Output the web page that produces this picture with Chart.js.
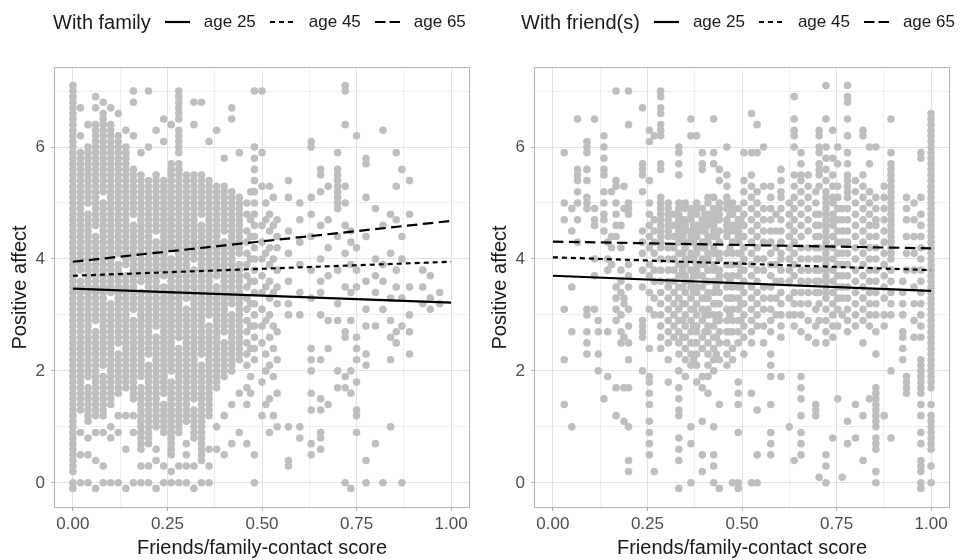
<!DOCTYPE html>
<html>
<head>
<meta charset="utf-8">
<script src="https://cdn.jsdelivr.net/npm/chart.js@4.4.0/dist/chart.umd.min.js"></script>
<style>
body{margin:0;background:#fff;width:963px;height:560px;position:relative;overflow:hidden;font-family:"Liberation Sans",Arial,sans-serif;}
canvas{position:absolute;top:0}
#c1{left:0}
#c2{left:480px}
.lg{position:absolute;top:10px;height:24px;display:flex;align-items:center;gap:14px;white-space:nowrap;color:#1a1a1a;z-index:2}
.lg .t{font-size:20px}
.lg .a{font-size:17px}
.lg svg{display:block}
</style>
</head>
<body>
<div class="lg" style="left:53px">
  <span class="t">With family</span>
  <svg width="25" height="6"><line x1="0" y1="3" x2="25" y2="3" stroke="#000" stroke-width="2.2"/></svg><span class="a">age 25</span>
  <svg width="25" height="6"><line x1="0" y1="3" x2="25" y2="3" stroke="#000" stroke-width="2.2" stroke-dasharray="5 4"/></svg><span class="a">age 45</span>
  <svg width="25" height="6"><line x1="0" y1="3" x2="25" y2="3" stroke="#000" stroke-width="2.2" stroke-dasharray="10.5 4"/></svg><span class="a">age 65</span>
</div>
<div class="lg" style="left:521px">
  <span class="t">With friend(s)</span>
  <svg width="25" height="6"><line x1="0" y1="3" x2="25" y2="3" stroke="#000" stroke-width="2.2"/></svg><span class="a">age 25</span>
  <svg width="25" height="6"><line x1="0" y1="3" x2="25" y2="3" stroke="#000" stroke-width="2.2" stroke-dasharray="5 4"/></svg><span class="a">age 45</span>
  <svg width="25" height="6"><line x1="0" y1="3" x2="25" y2="3" stroke="#000" stroke-width="2.2" stroke-dasharray="10.5 4"/></svg><span class="a">age 65</span>
</div>
<canvas id="c1" width="481" height="560"></canvas>
<canvas id="c2" width="481" height="560"></canvas>
<script>
// tick positions
var xMajor = [0, 0.25, 0.5, 0.75, 1];
var xMinor = [0.125, 0.375, 0.625, 0.875];
var yMajor = [0, 2, 4, 6];
var yMinor = [1, 3, 5, 7];

// fitted lines, value at score 0 and score 1
var lineX = [0, 1];
var famAge25 = [3.47, 3.22];
var famAge45 = [3.70, 3.95];
var famAge65 = [3.95, 4.68];
var friAge25 = [3.70, 3.43];
var friAge45 = [4.03, 3.80];
var friAge65 = [4.31, 4.19];

var famX = [0, 0.02, 0.04, 0.06, 0.08, 0.10, 0.12, 0.14, 0.16, 0.18, 0.20, 0.22, 0.24, 0.26, 0.28, 0.30, 0.32, 0.34, 0.36, 0.38, 0.40, 0.42, 0.44, 0.46, 0.47, 0.48, 0.50, 0.51, 0.52, 0.53, 0.54,
  0.57, 0.60, 0.63, 0.655, 0.675, 0.70, 0.72, 0.735, 0.75, 0.775, 0.80, 0.82, 0.84, 0.855, 0.87, 0.89, 0.925, 0.945, 0.97];
var famY = [
  [-1,0,2,3,4,5,6,7,8,9,10,11,12,13,14,15,16,17,18,19,20,21,22,23,24,25,26,27,28,29,30,31,32,33,34,35,36,37,38,39,40,41,42,43,44,45,46,47,48,49,50,51,52,53,54,55,56,57,58,59,60,61,62,63,64,65,66,67,68,69,70,71],
  [0,5,9,13,14,15,16,17,18,19,20,21,22,23,24,25,26,27,28,29,30,31,32,33,34,35,36,38,39,40,41,42,43,44,45,46,47,48,49,50,51,52,53,54,55,56,57,58,59,62,67],
  [0,5,8,11,12,13,14,15,16,17,19,20,21,22,23,24,25,26,27,28,29,30,31,32,33,34,35,36,37,38,39,40,41,42,43,44,45,46,47,48,50,51,52,53,54,55,56,57,58,59,60,64],
  [-1,4,9,12,13,14,15,16,17,18,19,20,21,22,23,24,25,26,27,29,30,31,32,33,34,35,36,37,38,39,40,41,42,43,44,46,47,48,49,50,51,52,53,54,55,56,57,58,59,60,61,62,63,64,67,69],
  [0,3,9,12,13,14,15,16,17,18,19,21,22,23,24,25,26,27,28,29,30,31,32,33,34,35,36,37,38,39,40,41,42,43,44,45,46,47,48,49,50,52,53,54,55,56,57,58,59,60,61,62,63,64,65,66,68],
  [0,8,10,14,15,16,17,18,19,20,21,22,23,24,25,26,27,28,29,30,31,32,34,35,36,37,38,39,40,41,42,43,44,45,46,47,48,49,50,51,52,53,54,55,56,57,58,59,60,61,62,63,64,67],
  [0,9,12,16,17,18,19,20,21,22,23,25,26,27,28,29,30,31,32,33,34,35,36,37,38,39,41,42,43,44,45,46,47,48,49,50,51,52,53,54,55,56,57,58,59,60,61,62,66],
  [-1,6,12,17,18,19,20,21,22,23,24,25,26,27,28,29,30,31,32,33,34,35,36,37,39,40,41,42,43,44,45,46,47,48,49,50,51,52,53,54,55,56,57,58,59,60,63],
  [0,9,12,15,16,17,18,19,20,21,22,23,24,25,26,27,28,29,31,32,33,34,35,36,37,38,39,40,41,42,43,44,45,46,48,49,50,51,52,53,54,55,56,62,68,70],
  [0,3,6,7,8,9,10,11,12,13,14,15,16,17,19,20,21,22,23,24,25,26,27,28,29,30,31,32,33,34,36,37,38,39,40,41,42,43,44,45,46,47,48,49,50,51,52,53,54,55,59],
  [0,3,7,8,9,10,11,12,13,14,15,16,17,18,19,20,21,23,24,25,26,27,28,29,30,31,32,33,34,35,36,37,38,39,40,41,42,43,44,45,46,47,48,49,50,51,52,53,54,60,70],
  [-1,4,6,10,11,12,13,14,15,16,17,18,19,20,21,22,23,24,25,26,28,29,30,31,32,33,34,35,36,37,38,39,40,41,42,43,45,46,47,48,49,50,51,52,53,54,55,63],
  [0,3,9,10,11,12,13,14,16,17,18,19,20,21,22,23,24,25,26,27,28,29,30,31,32,33,34,35,37,38,39,40,41,42,43,44,45,46,47,48,49,50,51,52,53,54,61,65],
  [0,2,5,6,7,8,9,10,11,12,13,14,15,16,17,18,20,21,22,23,24,25,26,27,28,29,30,31,32,33,34,35,36,37,38,39,40,42,43,44,45,46,47,48,49,50,51,52,53,54,55,56,57,64],
  [0,3,9,10,11,12,13,14,15,16,17,18,19,20,21,22,23,24,26,27,28,29,30,31,32,33,34,35,36,37,38,39,40,41,42,43,44,45,46,47,48,49,50,51,52,53,54,55,56,57,59,60,61,62,63,65,66,67,68,69,70],
  [0,3,5,7,11,12,13,14,15,16,17,18,19,20,21,22,23,24,25,26,27,28,29,30,31,33,34,35,36,37,38,39,40,41,42,43,44,45,46,47,48,49,50,51,52,53,54,55],
  [-1,3,8,9,10,11,12,13,15,16,17,18,19,20,21,22,23,24,25,26,27,28,29,30,31,32,33,34,35,36,37,38,40,41,42,43,44,45,46,47,48,49,50,51,52,53,54,55,64,68],
  [0,4,5,6,7,8,9,10,11,12,13,14,15,16,17,18,19,20,21,23,24,25,26,27,28,29,30,31,32,33,34,35,36,37,38,39,40,41,42,43,44,45,46,48,49,50,51,52,53,54,55,68],
  [0,3,6,12,13,14,15,16,17,18,19,20,21,22,23,24,25,26,27,28,30,31,32,33,34,35,36,37,38,39,40,41,42,43,44,45,46,47,48,49,50,51,52,53,54,61],
  [6,10,17,18,19,20,21,22,23,24,25,26,27,28,29,30,31,32,33,34,35,37,38,39,40,41,42,43,44,45,46,47,48,49,50,51,52,53,63],
  [5,12,19,20,21,22,23,24,25,27,28,29,30,31,32,33,34,35,36,37,38,39,40,41,42,43,45,46,47,48,49,50,51,52,53,58],
  [7,14,20,21,22,23,24,25,26,27,28,29,30,32,33,34,35,36,37,38,39,40,41,42,43,44,45,46,47,48,49,50,51,52,65,67],
  [9,16,22,23,24,25,26,27,28,29,30,31,32,33,34,35,36,37,38,39,41,42,43,44,45,46,47,48,49,50,51,59],
  [7,14,17,21,23,25,27,29,31,33,35,37,39,41,43,45,48,50],
  [16,19,24,28,32,36,40,44,47,52],
  [0,5,22,24,26,28,30,32,34,36,38,40,42,44,46,48,50,52,54,56,58,60,70],
  [12,18,25,28,31,34,37,40,43,46,53,59,70],
  [14,20,23,29,35,41,47,50],
  [9,15,21,26,30,33,36,39,42,45,48,53],
  [12,19,24,28,34,40,46,51],
  [10,16,22,27,32,35,38,42,44,47],
  [3,4,10,30,32,36,41,45,51,54],
  [8,10,30,34,39,43,47,50],
  [5,7,13,16,20,22,24,33,38,44,48,51,60,61],
  [6,8,9,13,15,22,30,34,36,40,46,52,55,56],
  [14,24,29,37,42,47,53],
  [17,20,29,32,38,44,49,50,51,52,53,54,55,56,59],
  [0,17,19,26,27,35,41,46,50,53,64,70,71],
  [-1,16,20,29,34,39,43,45],
  [9,12,13,18,22,24,26,35,38,42,62],
  [0,4,21,23,28,31,36,44,51,57,58],
  [7,28,34,37,40,49],
  [0,31,36,39,46,63],
  [10,22,26,29,33,41,48],
  [25,27,35,38,47,53,59],
  [0,28,33,40,44,56],
  [23,27,30,35,48,54],
  [32,35,38],
  [31,33,37],
  [32,34]
];

var friX = [0.03, 0.05, 0.065, 0.09, 0.11, 0.12, 0.135, 0.145, 0.155, 0.167, 0.18, 0.188, 0.20, 0.237, 0.255, 0.268, 0.285, 0.305, 0.32, 0.333, 0.343, 0.35, 0.365, 0.372, 0.38, 0.395, 0.402, 0.41, 0.425, 0.432, 0.44, 0.46, 0.468, 0.475, 0.49, 0.497,
  0.505, 0.525, 0.54, 0.557, 0.576, 0.59, 0.603, 0.625, 0.638, 0.656, 0.675, 0.695, 0.704, 0.722, 0.74, 0.753, 0.765, 0.779, 0.80, 0.82, 0.837, 0.854, 0.876, 0.894, 0.925, 0.935, 0.955, 0.973, 1.00];
var friY = [
  [59,50,47,31,22,14],
  [45,49,35,27,10],
  [65,56,55,54,52,50,47,43],
  [61,60,59,56,54,51,50,49,31,30,27,25,23],
  [65,49,47,46,40,37,31],
  [29,27,23,20],
  [62,60,58,56,55,52,50,48,47,45,15],
  [43,40,38,27,19],
  [52,44,42,39],
  [70,54,53,50,48,46,44,35,33,31,29,17,12],
  [46,42,38,36,34,30,27,25],
  [53,49,33,32,26,17,11],
  [70,64,50,49,48,39,37,35,31,28,25,22,17,10,4,2],
  [67,57,56,55,52,45,43,41,38,35,29,28,27,26,20],
  [63,61,54,50,48,46,44,42,39,37,34,31,24,19,18,16,14,11,9,7,5],
  [62,47,45,43,41,38,36,33,30,2],
  [70,69,67,66,64,63,62,57,56,51,50,49,48,47,46,45,44,43,42,40,38,36,34,32,30,28,26,24],
  [50,49,48,47,46,45,44,42,40,38,36,35,33,31,29,27,25,22,18],
  [48,46,44,42,40,38,36,34,32,30,28,26],
  [60,59,57,55,50,49,48,47,46,45,44,43,41,39,37,35,33,31,29,27,25,23,20,17,15,13,12,8,6,4,-1],
  [47,44,41,38,35,32,29,26],
  [50,49,47,46,45,43,42,40,39,37,36,34,32,30,28,26,24,22,19],
  [65,62,49,48,47,45,44,43,41,40,38,36,35,33,31,29,27,25,23,21,10,7,0],
  [46,43,40,37,34,31,28,25,22],
  [62,50,49,48,46,45,44,42,41,39,38,37,35,34,32,30,28,27,25,23,21,18],
  [59,57,56,49,47,46,45,43,42,40,39,37,35,33,31,29,26,24,19,17,11,5,2],
  [48,45,42,39,36,33,30,27],
  [51,50,48,47,46,44,43,41,40,38,36,34,33,31,30,28,27,25,23,21,19,16],
  [65,59,57,51,49,48,47,46,45,44,42,41,39,38,36,34,32,30,28,26,24,22,20,10,5,3,0],
  [47,44,41,38,35,32,29,26,23],
  [56,54,50,49,48,47,45,43,41,40,38,37,36,34,32,30,29,27,25,22,14,-1],
  [60,55,53,51,50,49,47,46,45,44,41,39,37,35,33,31,29,27,25,23,21],
  [48,45,42,39,36,33,30,27],
  [50,49,48,46,45,43,41,39,37,35,33,31,29,27,24,22,0],
  [49,47,46,45,44,43,41,39,37,35,33,31,29,27,25,18,16,14,9,0,-1],
  [47,44,41,38,35,32,29],
  [59,54,52,50,48,46,44,42,40,38,36,34,32,30,28,26,23],
  [66,59,55,53,51,49,47,45,43,41,39,37,35,33,31,29,27,25,16,0],
  [64,59,52,50,48,46,44,42,40,38,36,34,32,30,28,13,5,0],
  [60,53,49,47,45,43,40,38,35,33,31,28,25],
  [53,51,49,47,45,43,41,39,37,35,33,31,29,27,23,21,19,14,9,7,5],
  [48,45,42,39,36,33,30],
  [56,54,52,51,49,47,45,43,41,40,38,36,34,32,30,28,26,19],
  [50,48,46,44,42,40,38,36,33,30,10],
  [69,65,63,62,60,55,53,51,49,47,45,43,41,39,37,34,32,30,28,4],
  [59,57,55,54,52,50,48,46,44,42,40,38,36,34,32,30,27,19,17,15,12,9,7,5],
  [55,53,51,49,47,45,42,40,38,36,34,32,29,26],
  [52,50,48,46,44,42,40,38,36,34,31,28,25,14,13,12],
  [63,62,60,59,57,56,55,53,48,46,44,42,40,38,36,34,32,29,1],
  [71,65,60,58,56,54,52,51,50,49,48,47,46,45,44,43,42,41,40,39,38,37,36,35,34,33,31,29,27,25,5,3,0],
  [63,58,55,53,51,50,48,47,46,44,42,40,38,36,34,32,30,28,26,8],
  [60,57,53,51,49,47,45,43,41,39,37,35,33,31,28,15],
  [49,47,45,43,41,39,37,35,33,30,1],
  [71,69,68,65,62,59,57,55,54,53,52,51,49,47,45,43,41,39,37,35,33,31,29,27,11,7],
  [54,52,50,48,46,44,42,40,38,36,34,32,30,28,14,8],
  [63,62,55,53,51,49,47,45,43,41,39,37,35,33,31,29,25,12,4],
  [60,57,52,50,48,46,44,42,40,38,36,34,32,30,28,15],
  [60,51,49,47,46,44,42,40,38,36,34,32,30,27,23,17,16,15,14,13,12,11,10,8,7,6,2,0],
  [53,51,49,47,45,43,41,39,37,35,33,30,28,12],
  [65,59,57,56,55,54,53,52,51,50,49,48,47,46,45,44,43,42,41,40,38,36,34,32,30,20,8],
  [36,34,32,30,27,26,24,22],
  [51,49,47,44,41,38,19,18,17,16],
  [50,47,44,41,38,35,32,29,26],
  [59,58,51,48,46,44,42,40,38,36,34,32,30,28,26,22,21,20,19,18,17,16,14,12,9,7,4,3,2,0,-1],
  [66,65,64,63,62,61,60,59,58,57,56,55,54,53,52,51,50,49,48,47,46,45,44,43,42,41,40,39,38,37,36,35,34,33,32,31,30,29,28,27,26,25,24,23,22,21,20,19,18,17,14,12,11,10,9,8,7,6,3,0]
];

var fontFam = '"Liberation Sans", Arial, sans-serif';

function isMajor(list, v) {
  return list.some(function (m) { return Math.abs(m - v) < 1e-9; });
}

function toPoints(xs, ys) {
  var pts = [];
  for (var i = 0; i < xs.length; i++) {
    for (var j = 0; j < ys[i].length; j++) {
      pts.push({ x: xs[i], y: ys[i][j] / 10 });
    }
  }
  return pts;
}

function linePts(vals) {
  return lineX.map(function (x, i) { return { x: x, y: vals[i] }; });
}

var panelBorder = {
  id: 'panelBorder',
  afterDatasetsDraw: function (chart) {
    var a = chart.chartArea, c = chart.ctx;
    c.save();
    c.strokeStyle = '#b3b3b3';
    c.lineWidth = 1;
    c.strokeRect(a.left + 0.5, a.top + 0.5, a.right - a.left - 1, a.bottom - a.top - 1);
    c.restore();
  }
};

function fitLine(vals, dash) {
  return {
    data: linePts(vals),
    showLine: true,
    borderColor: '#000',
    borderWidth: 2.2,
    borderDash: dash,
    pointRadius: 0,
    fill: false,
    order: 0
  };
}

function makePanel(id, xs, ys, l25, l45, l65) {
  var ctx = document.getElementById(id).getContext('2d');
  return new Chart(ctx, {
    type: 'scatter',
    data: {
      datasets: [
        fitLine(l25, []),
        fitLine(l45, [5, 4]),
        fitLine(l65, [10.5, 5.5]),
        {
          data: toPoints(xs, ys),
          backgroundColor: '#bebebe',
          borderWidth: 0,
          pointRadius: 3.8,
          pointHoverRadius: 3.8,
          order: 1
        }
      ]
    },
    options: {
      responsive: false,
      animation: false,
      events: [],
      layout: { padding: { top: 67, right: 11, left: 0, bottom: 0 } },
      plugins: { legend: { display: false }, tooltip: { enabled: false } },
      scales: {
        x: {
          type: 'linear',
          min: -0.05,
          max: 1.05,
          afterBuildTicks: function (s) {
            s.ticks = xMajor.concat(xMinor).sort(function (a, b) { return a - b; }).map(function (v) { return { value: v }; });
          },
          afterFit: function (s) { s.height = 52; },
          border: { display: false },
          grid: {
            color: function (c) { return isMajor(xMajor, c.tick.value) ? '#e2e2e2' : '#ededed'; },
            lineWidth: 1,
            tickLength: 3,
            tickColor: function (c) { return isMajor(xMajor, c.tick.value) ? '#b3b3b3' : 'rgba(0,0,0,0)'; }
          },
          ticks: {
            autoSkip: false,
            maxRotation: 0,
            padding: 3,
            color: '#4d4d4d',
            font: { family: fontFam, size: 17 },
            callback: function (v) { return isMajor(xMajor, v) ? v.toFixed(2) : ''; }
          },
          title: {
            display: true,
            text: 'Friends/family-contact score',
            color: '#1a1a1a',
            font: { family: fontFam, size: 20 },
            padding: { top: 0, bottom: 0 }
          }
        },
        y: {
          type: 'linear',
          min: -0.45,
          max: 7.43,
          afterBuildTicks: function (s) {
            s.ticks = yMajor.concat(yMinor).sort(function (a, b) { return a - b; }).map(function (v) { return { value: v }; });
          },
          afterFit: function (s) { s.width = 54; },
          border: { display: false },
          grid: {
            color: function (c) { return isMajor(yMajor, c.tick.value) ? '#e2e2e2' : '#ededed'; },
            lineWidth: 1,
            tickLength: 3,
            tickColor: function (c) { return isMajor(yMajor, c.tick.value) ? '#b3b3b3' : 'rgba(0,0,0,0)'; }
          },
          ticks: {
            autoSkip: false,
            padding: 6,
            color: '#4d4d4d',
            font: { family: fontFam, size: 17 },
            callback: function (v) { return isMajor(yMajor, v) ? String(v) : ''; }
          },
          title: {
            display: true,
            text: 'Positive affect',
            color: '#1a1a1a',
            font: { family: fontFam, size: 20 },
            padding: { top: 8, bottom: 0 }
          }
        }
      }
    },
    plugins: [panelBorder]
  });
}

makePanel('c1', famX, famY, famAge25, famAge45, famAge65);
makePanel('c2', friX, friY, friAge25, friAge45, friAge65);
</script>
</body>
</html>
